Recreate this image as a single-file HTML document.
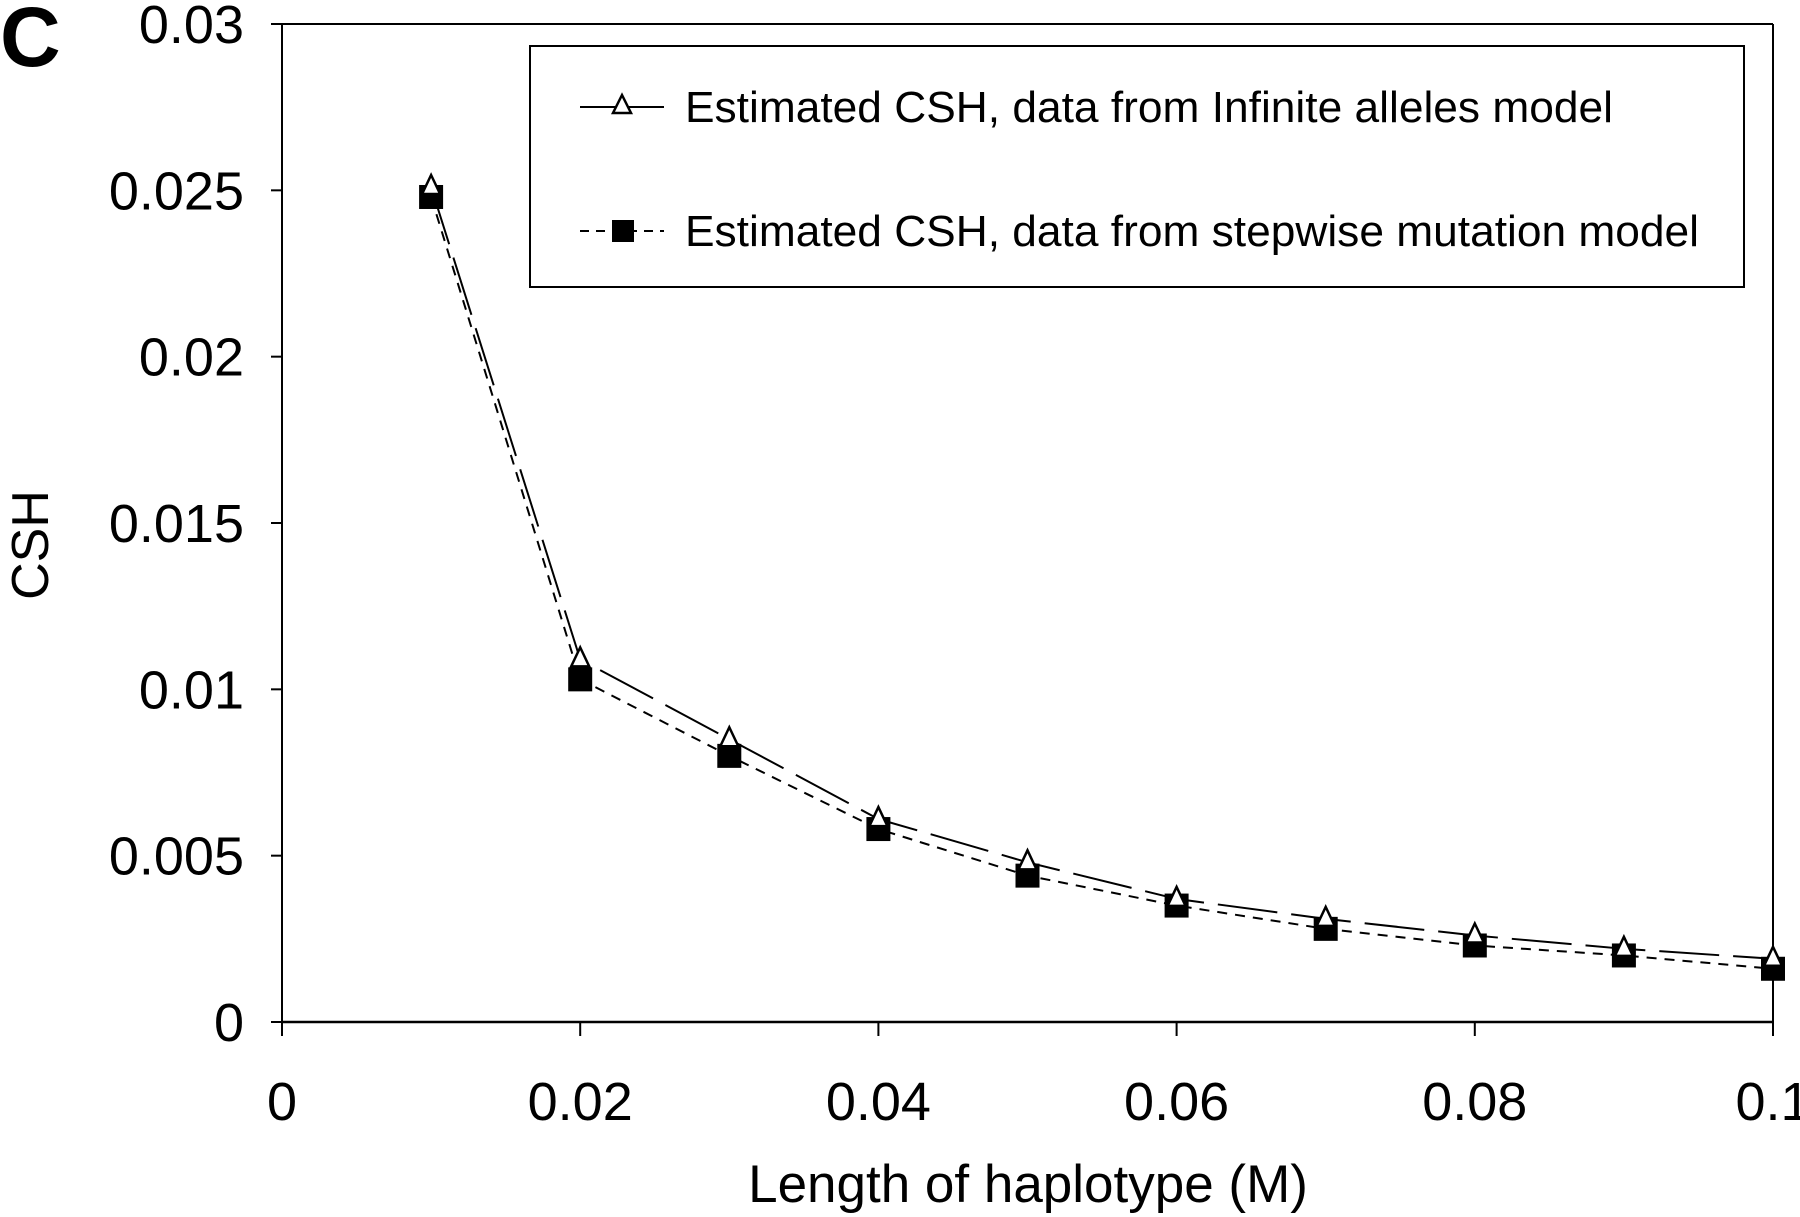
<!DOCTYPE html>
<html><head><meta charset="utf-8"><style>
html,body{margin:0;padding:0;background:#fff;}
svg{display:block;font-family:"Liberation Sans",Arial,sans-serif;}
</style></head><body>
<svg id="chart" width="1800" height="1217" viewBox="0 0 1800 1217">
<text x="0" y="66" font-size="84" font-weight="bold">C</text>
<g id="axes"></g>
<g id="series"></g>
<g>
<rect x="530" y="46" width="1214" height="241" fill="#fff" stroke="#000" stroke-width="2"/>
<g>
<line x1="580" y1="107" x2="664" y2="107" stroke="#000" stroke-width="2"/>
<polygon points="622,95 613,113 631,113" fill="#fff" stroke="#000" stroke-width="2.5"/>
<text x="685" y="122" font-size="44" textLength="928" lengthAdjust="spacingAndGlyphs">Estimated CSH, data from Infinite alleles model</text>
</g>
<g>
<line x1="580" y1="231" x2="664" y2="231" stroke="#000" stroke-width="2" stroke-dasharray="9,7"/>
<rect x="612" y="220" width="22" height="22" fill="#000"/>
<text x="685" y="246" font-size="44" textLength="1014" lengthAdjust="spacingAndGlyphs">Estimated CSH, data from stepwise mutation model</text>
</g>
</g>
<text x="1028" y="1202" font-size="53" text-anchor="middle">Length of haplotype (M)</text>
<text transform="translate(48,545) rotate(-90)" font-size="52" text-anchor="middle">CSH</text>
</svg>
<script>
const xCategories=[0.01,0.02,0.03,0.04,0.05,0.06,0.07,0.08,0.09,0.1];
const infiniteValues=[0.0251,0.0109,0.0085,0.0061,0.0048,0.0037,0.0031,0.0026,0.0022,0.0019];
const stepwiseValues=[0.0248,0.0103,0.0080,0.0058,0.0044,0.0035,0.0028,0.0023,0.0020,0.0016];
const yTicks=[0,0.005,0.01,0.015,0.02,0.025,0.03];
const yTickLabels=["0","0.005","0.01","0.015","0.02","0.025","0.03"];
const xTicks=[0,0.02,0.04,0.06,0.08,0.1];
const xTickLabels=["0","0.02","0.04","0.06","0.08","0.1"];

const NS="http://www.w3.org/2000/svg";
const L=282,R=1773,T=24,B=1022;
function sx(v){return L+(v/0.1)*(R-L);}
function sy(v){return B-(v/0.03)*(B-T);}
function mk(tag,attrs,parent){const e=document.createElementNS(NS,tag);for(const k in attrs)e.setAttribute(k,attrs[k]);parent.appendChild(e);return e;}
const axes=document.getElementById('axes');
const ser=document.getElementById('series');
let e;
e=mk('line',{x1:L,y1:T,x2:R,y2:T,stroke:'#000','stroke-width':2},axes);


e=mk('line',{x1:R,y1:T,x2:R,y2:B,stroke:'#000','stroke-width':2},axes);


e=mk('line',{x1:L,y1:T,x2:L,y2:B,stroke:'#000','stroke-width':2},axes);


e=mk('line',{x1:L,y1:B,x2:R,y2:B,stroke:'#000','stroke-width':2.5},axes);


yTicks.forEach((v,i)=>{
  mk('line',{x1:L-11,y1:sy(v),x2:L,y2:sy(v),stroke:'#000','stroke-width':2},axes);
  const t=mk('text',{x:244,y:sy(v)+19,'font-size':54,'text-anchor':'end'},axes);
  t.textContent=yTickLabels[i];
  
  
});
xTicks.forEach((v,i)=>{
  mk('line',{x1:sx(v),y1:B,x2:sx(v),y2:B+14,stroke:'#000','stroke-width':2},axes);
  const t=mk('text',{x:sx(v),y:1120,'font-size':54,'text-anchor':'middle'},axes);
  t.textContent=xTickLabels[i];
  
  
});
function pts(vals){return xCategories.map((x,i)=>sx(x)+','+sy(vals[i])).join(' ');}
e=mk('polyline',{points:pts(infiniteValues),fill:'none',stroke:'#000','stroke-width':2,'stroke-dasharray':'60,14'},ser);


e=mk('polyline',{points:pts(stepwiseValues),fill:'none',stroke:'#000','stroke-width':2,'stroke-dasharray':'10,8'},ser);


xCategories.forEach((x,i)=>{
  const cx=sx(x),cy=sy(stepwiseValues[i]);
  const r=mk('rect',{x:cx-12,y:cy-12,width:24,height:24,fill:'#000'},ser);
  
  
});
xCategories.forEach((x,i)=>{
  const cx=sx(x),cy=sy(infiniteValues[i]);
  const p=mk('polygon',{points:`${cx},${cy-12} ${cx-9},${cy+7} ${cx+9},${cy+7}`,fill:'#fff',stroke:'#000','stroke-width':2.5},ser);
  
  
});
</script>
</body></html>
